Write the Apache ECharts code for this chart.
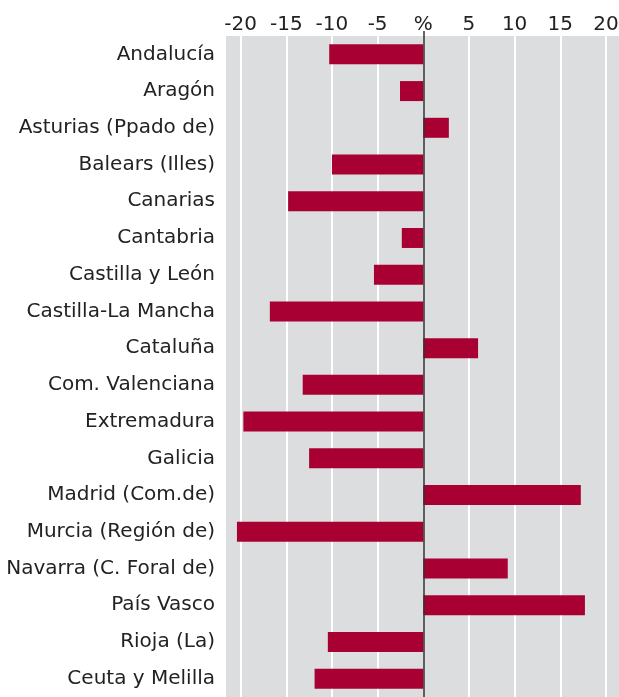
<!DOCTYPE html>
<html>
<head>
<meta charset="utf-8">
<script src="https://cdn.jsdelivr.net/npm/echarts@6/dist/echarts.min.js"></script>
<style>
  html, body { margin: 0; padding: 0; background: #fff; }
  #chart { width: 619px; height: 697px; }
</style>
</head>
<body>
<div id="chart"></div>
<script>
const regions = [
  'Andalucía', 'Aragón', 'Asturias (Ppado de)', 'Balears (Illes)', 'Canarias',
  'Cantabria', 'Castilla y León', 'Castilla-La Mancha', 'Cataluña',
  'Com. Valenciana', 'Extremadura', 'Galicia', 'Madrid (Com.de)',
  'Murcia (Región de)', 'Navarra (C. Foral de)', 'País Vasco', 'Rioja (La)',
  'Ceuta y Melilla'
];
const change = [
  -10.3, -2.55, 2.8, -10.0, -14.8,
  -2.35, -5.4, -16.8, 6.0,
  -13.2, -19.7, -12.5, 17.25,
  -20.4, 9.25, 17.7, -10.45,
  -11.9
];
const ticks = [-20, -15, -10, -5, 0, 5, 10, 15, 20];

const font = 'DejaVu Sans';
const chart = echarts.init(document.getElementById('chart'));

chart.setOption({
  animation: false,
  grid: {
    left: 226, right: 0, top: 36, bottom: 0,
    outerBoundsMode: 'none',
    containLabel: false,
    show: true, backgroundColor: '#dcdddf', borderWidth: 0
  },
  xAxis: {
    type: 'value',
    position: 'top',
    min: -21.6,
    max: 21.43,
    splitLine: { show: false },
    axisLine: { show: false },
    axisTick: {
      show: true, customValues: [0], length: 5, inside: false,
      lineStyle: { color: '#333', width: 1.5 }
    },
    axisLabel: {
      customValues: ticks,
      margin: 1,
      fontFamily: font, fontSize: 20, color: '#222',
      formatter: v => (v === 0 ? '%' : String(v))
    }
  },
  yAxis: {
    type: 'category',
    data: regions,
    inverse: true,
    axisLine: { show: false, onZero: false },
    axisTick: { show: false },
    axisLabel: {
      margin: 11, padding: [5, 0, 0, 0],
      fontFamily: font, fontSize: 20, color: '#222'
    }
  },
  series: [
    {
      // gridlines under the bars
      type: 'bar',
      data: [],
      z: 1,
      markLine: {
        silent: true,
        z: 1,
        symbol: 'none',
        label: { show: false },
        lineStyle: { color: '#ffffff', width: 2, type: 'solid' },
        data: ticks.filter(t => t !== 0).map(t => ({ xAxis: t }))
      }
    },
    {
      type: 'bar',
      data: change,
      barWidth: 20,
      barGap: '-100%',
      z: 2,
      itemStyle: { color: '#a80032' },
      markLine: {
        silent: true,
        symbol: 'none',
        label: { show: false },
        lineStyle: { color: '#333', width: 1.5, type: 'solid' },
        data: [{ xAxis: 0 }]
      }
    }
  ]
});
</script>
</body>
</html>
